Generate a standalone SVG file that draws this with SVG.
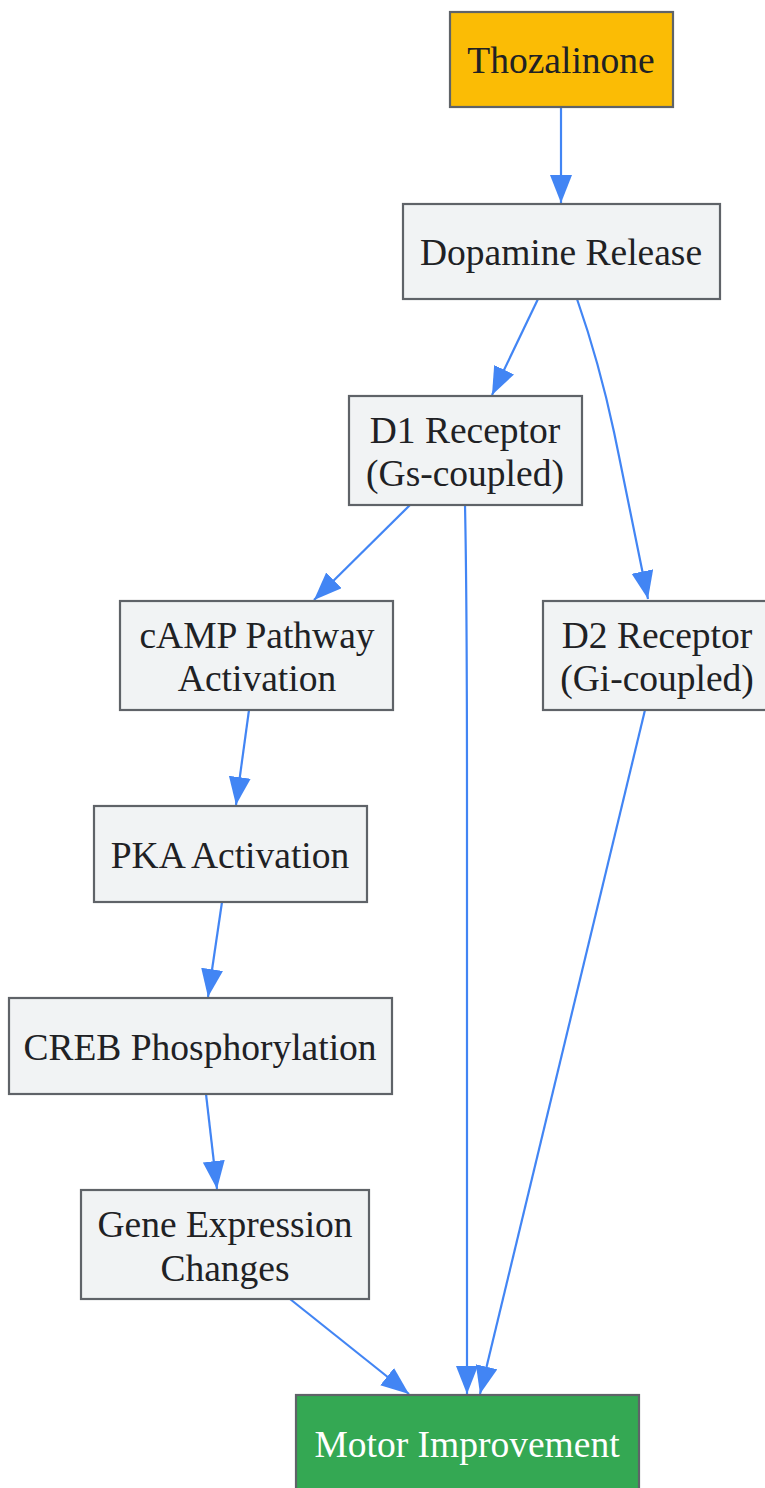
<svg xmlns="http://www.w3.org/2000/svg" width="765" height="1488" viewBox="0 0 765 1488">
<style>
.n{fill:#f1f3f4;stroke:#5f6368;stroke-width:2.2}
.t{font-family:"Liberation Serif","Times New Roman",serif;font-size:37.5px;fill:#202124;text-anchor:middle}
.e{fill:none;stroke:#4285f4;stroke-width:2.2;marker-end:url(#a)}
</style>
<defs>
<marker id="a" markerUnits="userSpaceOnUse" markerWidth="30" markerHeight="24" refX="28" refY="11" orient="auto">
<path d="M0,0 L28,11 L0,22 z" fill="#4285f4"/>
</marker>
</defs>
<g id="edges">
<path class="e" d="M561,107 L561,203"/>
<path class="e" d="M538,299 L492,395"/>
<path class="e" d="M577,299 C592,342 604,385 614,432 C626,490 638,550 648,599"/>
<path class="e" d="M410,505 L314,600"/>
<path class="e" d="M465,505 C467,600 467,700 467,800 L467,1394"/>
<path class="e" d="M249,710 L236,805"/>
<path class="e" d="M222,902 L208,997"/>
<path class="e" d="M206,1094 L217,1189"/>
<path class="e" d="M290,1299 L409,1394"/>
<path class="e" d="M645,710 L480,1394"/>
</g>
<g id="thozalinone"><rect x="450" y="12" width="223" height="95" fill="#fbbc05" stroke="#5f6368" stroke-width="2.2"/><text class="t" x="561" y="73">Thozalinone</text></g>
<g id="dopamine"><rect class="n" x="403" y="204" width="317" height="95"/><text class="t" x="561" y="265">Dopamine Release</text></g>
<g id="d1"><rect class="n" x="349" y="396" width="233" height="109"/><text class="t" x="465" y="443">D1 Receptor</text><text class="t" x="465" y="486">(Gs-coupled)</text></g>
<g id="camp"><rect class="n" x="120" y="601" width="273" height="109"/><text class="t" x="257" y="648">cAMP Pathway</text><text class="t" x="257" y="691">Activation</text></g>
<g id="d2"><rect class="n" x="543" y="601" width="228" height="109"/><text class="t" x="657" y="648">D2 Receptor</text><text class="t" x="657" y="691">(Gi-coupled)</text></g>
<g id="pka"><rect class="n" x="94" y="806" width="273" height="96"/><text class="t" x="230" y="868">PKA Activation</text></g>
<g id="creb"><rect class="n" x="9" y="998" width="383" height="96"/><text class="t" x="200" y="1060">CREB Phosphorylation</text></g>
<g id="gene"><rect class="n" x="81" y="1190" width="288" height="109"/><text class="t" x="225" y="1237">Gene Expression</text><text class="t" x="225" y="1281">Changes</text></g>
<g id="motor"><rect x="296" y="1395" width="343" height="100" fill="#34a853" stroke="#5f6368" stroke-width="2.2"/><text class="t" x="467" y="1457" style="fill:#ffffff">Motor Improvement</text></g>
</svg>
